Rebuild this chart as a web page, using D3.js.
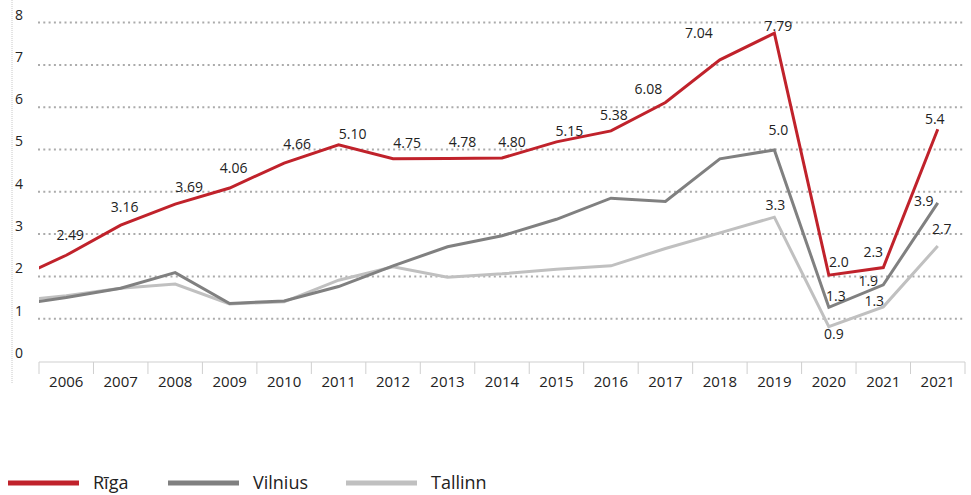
<!DOCTYPE html>
<html lang="en">
<head>
    <meta charset="UTF-8">
    <title>Rīga, Vilnius, Tallinn</title>
    <style>
        body {
            margin: 0;
            background-color: #ffffff;
            font-family: "Open Sans", Lato, Arial, sans-serif;
        }
        #chart text {
            fill: #222;
        }
    </style>
</head>
<body>
    <svg id="chart"></svg>

    <script src="https://d3js.org/d3.v7.min.js"></script>
    <script>
        // Category labels (the last one is repeated in the source)
        const years = ['2006', '2007', '2008', '2009', '2010', '2011', '2012', '2013', '2014',
            '2015', '2016', '2017', '2018', '2019', '2020', '2021', '2021'];
        const yTicks = [0, 1, 2, 3, 4, 5, 6, 7, 8];

        // Values as plotted (the lead-in value belongs to the year before 2006, clipped away)
        const rigaLeadIn = 1.9;
        const riga = [2.50, 3.21, 3.71, 4.09, 4.68, 5.11, 4.78, 4.79, 4.80,
            5.18, 5.44, 6.11, 7.12, 7.75, 2.03, 2.21, 5.48];
        const vilniusLeadIn = 1.31;
        const vilnius = [1.50, 1.72, 2.09, 1.36, 1.42, 1.76, 2.25, 2.70, 2.96,
            3.35, 3.85, 3.77, 4.78, 4.99, 1.27, 1.80, 3.74];
        const tallinnLeadIn = 1.42;
        const tallinn = [1.54, 1.72, 1.82, 1.35, 1.40, 1.91, 2.23, 1.98, 2.06,
            2.17, 2.25, 2.66, 3.03, 3.40, 0.81, 1.28, 2.72];

        // Value labels printed on the chart
        const rigaLabels = ['2.49', '3.16', '3.69', '4.06', '4.66', '5.10', '4.75', '4.78', '4.80',
            '5.15', '5.38', '6.08', '7.04', '7.79', '2.0', '2.3', '5.4'];
        const vilniusLabels = [null, null, null, null, null, null, null, null, null,
            null, null, null, null, '5.0', '1.3', '1.9', '3.9'];
        const tallinnLabels = [null, null, null, null, null, null, null, null, null,
            null, null, null, null, '3.3', '0.9', '1.3', '2.7'];

        // Label placement relative to its point [dx, dy]
        const rigaLabelPos = [[4, -20], [4, -18], [14, -17], [4, -20], [13, -19], [14, -11], [14, -16],
            [15, -16], [10, -16], [13, -11], [3, -16], [-17, -13], [-21, -27], [4, -7],
            [10, -13], [-10, -15], [-3, -10]];
        const vilniusLabelPos = { 13: [4, -20], 14: [7, -11], 15: [-15, -4], 16: [-14, -2] };
        const tallinnLabelPos = { 13: [1, -12], 14: [5, 7], 15: [-9, -6], 16: [4, -17] };

        const series = [
            { name: 'Tallinn', leadIn: tallinnLeadIn, values: tallinn, labels: tallinnLabels, pos: tallinnLabelPos, color: '#c0c0c0' },
            { name: 'Vilnius', leadIn: vilniusLeadIn, values: vilnius, labels: vilniusLabels, pos: vilniusLabelPos, color: '#808080' },
            { name: 'Rīga', leadIn: rigaLeadIn, values: riga, labels: rigaLabels, pos: rigaLabelPos, color: '#c0222b' }
        ];

        const width = 971;
        const height = 495;
        const plotLeft = 39, plotRight = 965, plotTop = 22.6, plotBottom = 361;

        const svg = d3.select('#chart')
            .attr('width', width)
            .attr('height', height);

        const idx = years.map((_, i) => i);
        const x = d3.scaleBand().domain(idx).range([plotLeft, plotRight]);
        const y = d3.scaleLinear().domain([0, 8]).range([plotBottom, plotTop]);
        const cx = i => x(i) + x.bandwidth() / 2;

        // Left dotted frame line
        svg.append('line')
            .attr('x1', 12).attr('x2', 12)
            .attr('y1', 0).attr('y2', 383)
            .attr('stroke', '#c8c8c8')
            .attr('stroke-width', 1)
            .attr('stroke-dasharray', '1 1');

        // Grid lines
        svg.selectAll('.grid')
            .data(yTicks.filter(d => d > 0))
            .enter()
            .append('line')
            .attr('class', 'grid')
            .attr('x1', plotLeft - 1).attr('x2', plotRight)
            .attr('y1', d => y(d)).attr('y2', d => y(d))
            .attr('stroke', '#ababab')
            .attr('stroke-width', 2)
            .attr('stroke-dasharray', '2 3.3');

        // Y labels sit above each grid line
        svg.selectAll('.y-label')
            .data(yTicks)
            .enter()
            .append('text')
            .attr('class', 'y-label')
            .attr('x', 15)
            .attr('y', d => y(d) - 8)
            .attr('dy', '0.35em')
            .style('font-size', '14px')
            .text(d => d);

        // X axis: baseline and ticks between categories
        svg.append('line')
            .attr('x1', plotLeft).attr('x2', plotRight)
            .attr('y1', plotBottom + 1).attr('y2', plotBottom + 1)
            .attr('stroke', '#cfcfcf');

        svg.selectAll('.x-tick')
            .data(idx.concat([years.length]))
            .enter()
            .append('line')
            .attr('class', 'x-tick')
            .attr('x1', d => plotLeft + d * x.step())
            .attr('x2', d => plotLeft + d * x.step())
            .attr('y1', plotBottom + 1).attr('y2', plotBottom + 13)
            .attr('stroke', '#cfcfcf');

        svg.selectAll('.x-label')
            .data(idx)
            .enter()
            .append('text')
            .attr('class', 'x-label')
            .attr('x', d => cx(d))
            .attr('y', 382)
            .attr('dy', '0.35em')
            .attr('text-anchor', 'middle')
            .style('font-size', '15px')
            .text(d => years[d]);

        // Clip so the lead-in segment starts at the first category edge
        svg.append('clipPath')
            .attr('id', 'plot-clip')
            .append('rect')
            .attr('x', plotLeft).attr('y', 0)
            .attr('width', plotRight - plotLeft).attr('height', height);

        const line = d3.line()
            .x(d => d.x)
            .y(d => y(d.v));

        series.forEach(s => {
            const pts = [{ x: cx(0) - x.step(), v: s.leadIn }]
                .concat(s.values.map((v, i) => ({ x: cx(i), v })));
            svg.append('path')
                .datum(pts)
                .attr('clip-path', 'url(#plot-clip)')
                .attr('fill', 'none')
                .attr('stroke', s.color)
                .attr('stroke-width', 3)
                .attr('stroke-linejoin', 'miter')
                .attr('d', line);
        });

        // Value labels
        series.forEach(s => {
            svg.selectAll(null)
                .data(s.values.map((v, i) => ({ v, i, t: s.labels[i] })).filter(d => d.t))
                .enter()
                .append('text')
                .attr('x', d => cx(d.i) + s.pos[d.i][0])
                .attr('y', d => y(d.v) + s.pos[d.i][1])
                .attr('dy', '0.35em')
                .attr('text-anchor', 'middle')
                .style('font-size', '14px')
                .text(d => d.t);
        });

        // Legend
        const legendX = d3.scaleOrdinal()
            .domain(['Rīga', 'Vilnius', 'Tallinn'])
            .range([8, 168, 346]);

        const legend = svg.selectAll('.legend-item')
            .data(series.slice().reverse())
            .enter()
            .append('g')
            .attr('class', 'legend-item')
            .attr('transform', d => `translate(${legendX(d.name)}, 483)`);

        legend.append('line')
            .attr('x1', 0).attr('x2', 71)
            .attr('stroke', d => d.color)
            .attr('stroke-width', 5);

        legend.append('text')
            .attr('x', 85)
            .attr('dy', '0.35em')
            .style('font-size', '18px')
            .text(d => d.name);
    </script>
</body>
</html>
